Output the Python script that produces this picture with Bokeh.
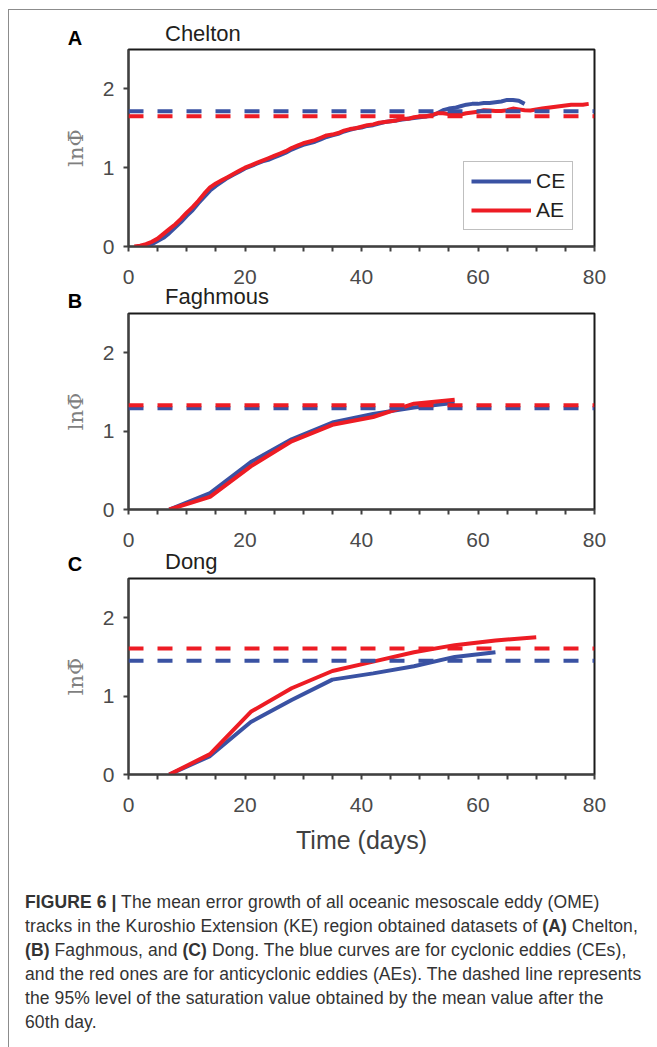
from bokeh.plotting import figure
from bokeh.models import FixedTicker, Span, Legend, LegendItem, Div, Range1d
from bokeh.layouts import column
from bokeh.embed import file_html
from bokeh.resources import INLINE

BLUE = "#3a52a3"
RED = "#ed1c24"

x_major_ticks = [0, 20, 40, 60, 80]
x_minor_ticks = [5, 10, 15, 25, 30, 35, 45, 50, 55, 65, 70, 75]
y_major_ticks = [0, 1, 2]

# ---- Panel A: Chelton (daily) ----
chelton_ce_days = list(range(2, 69))
chelton_ce = [0.00, 0.00, 0.03, 0.07, 0.11, 0.17, 0.24, 0.31, 0.39, 0.46,
              0.55, 0.63, 0.71, 0.77, 0.82, 0.87, 0.91, 0.95, 0.99, 1.02,
              1.05, 1.08, 1.10, 1.13, 1.16, 1.19, 1.23, 1.26, 1.29, 1.31,
              1.33, 1.36, 1.39, 1.41, 1.43, 1.46, 1.48, 1.50, 1.51, 1.53,
              1.54, 1.56, 1.58, 1.59, 1.60, 1.61, 1.62, 1.63, 1.64, 1.65,
              1.66, 1.69, 1.73, 1.75, 1.76, 1.78, 1.80, 1.81, 1.81, 1.82,
              1.82, 1.83, 1.84, 1.86, 1.86, 1.85, 1.81]
chelton_ae_days = list(range(1, 80))
chelton_ae = [0.00, 0.01, 0.03, 0.06, 0.10, 0.16, 0.22, 0.28, 0.35, 0.43,
              0.50, 0.58, 0.67, 0.75, 0.80, 0.84, 0.88, 0.92, 0.96, 1.00,
              1.03, 1.06, 1.09, 1.12, 1.15, 1.18, 1.21, 1.25, 1.28, 1.31,
              1.33, 1.35, 1.38, 1.41, 1.42, 1.44, 1.47, 1.49, 1.50, 1.52,
              1.54, 1.55, 1.57, 1.58, 1.59, 1.60, 1.62, 1.62, 1.64, 1.65,
              1.65, 1.67, 1.69, 1.69, 1.68, 1.68, 1.675, 1.69, 1.70, 1.71,
              1.73, 1.725, 1.72, 1.72, 1.73, 1.75, 1.74, 1.73, 1.725, 1.74,
              1.75, 1.76, 1.77, 1.78, 1.79, 1.80, 1.80, 1.80, 1.81]
chelton_ce_sat = 1.717
chelton_ae_sat = 1.654

# ---- Panel B: Faghmous (weekly) ----
faghmous_days = [7, 14, 21, 28, 35, 42, 49, 56]
faghmous_ce = [0.00, 0.21, 0.605, 0.895, 1.11, 1.22, 1.30, 1.36]
faghmous_ae = [0.00, 0.16, 0.55, 0.87, 1.08, 1.18, 1.35, 1.40]
faghmous_ce_sat = 1.29
faghmous_ae_sat = 1.33

# ---- Panel C: Dong (weekly) ----
dong_ce_days = [7, 14, 21, 28, 35, 42, 49, 56, 63]
dong_ce = [0.00, 0.235, 0.67, 0.95, 1.21, 1.29, 1.38, 1.50, 1.56]
dong_ae_days = [7, 14, 21, 28, 35, 42, 49, 56, 63, 70]
dong_ae = [0.00, 0.26, 0.80, 1.10, 1.32, 1.44, 1.56, 1.65, 1.71, 1.75]
dong_ce_sat = 1.45
dong_ae_sat = 1.607

FONT = "Liberation Sans"


def header(letter, title, height, letter_top, title_top):
    html = (
        f"<div style=\"position:relative; width:640px; height:{height}px; "
        f"font-family:'Liberation Sans';\">"
        f"<span style=\"position:absolute; left:51px; width:30px; top:{letter_top}px; "
        f"text-align:center; font-size:20px; line-height:20px; font-weight:bold; "
        f"color:#000;\">{letter}</span>"
        f"<span style=\"position:absolute; left:156px; top:{title_top}px; "
        f"font-size:22px; line-height:22px; color:#231f20; white-space:nowrap;\">{title}</span>"
        f"</div>"
    )
    return Div(text=html, width=648, height=height, margin=(0, 0, 0, 0))


def make_panel(ce_x, ce_y, ae_x, ae_y, ce_sat, ae_sat,
               frame_h, bottom, xlabel=None, legend=False):
    p = figure(frame_width=466, frame_height=frame_h,
               min_border_left=119, min_border_right=63,
               min_border_top=4, min_border_bottom=bottom,
               x_range=Range1d(0, 80), y_range=Range1d(0, 2.5),
               output_backend="svg", toolbar_location=None,
               background_fill_color="white", border_fill_color="white")
    p.xgrid.visible = False
    p.ygrid.visible = False
    p.outline_line_color = "#1a1a1a"
    p.outline_line_width = 2

    p.xaxis.ticker = FixedTicker(ticks=x_major_ticks, minor_ticks=x_minor_ticks)
    p.yaxis.ticker = FixedTicker(ticks=y_major_ticks, minor_ticks=[])
    for ax in (p.xaxis[0], p.yaxis[0]):
        ax.axis_line_color = "#404040"
        ax.axis_line_width = 2
        ax.major_tick_line_color = "#404040"
        ax.major_tick_line_width = 2
        ax.major_tick_in = 0
        ax.major_tick_out = 5
        ax.minor_tick_line_color = "#404040"
        ax.minor_tick_line_width = 2
        ax.minor_tick_in = 0
        ax.minor_tick_out = 5
        ax.major_label_text_font = FONT
        ax.major_label_text_font_size = "21px"
        ax.major_label_text_color = "#4a4a4a"
    p.xaxis.major_label_standoff = 18
    p.yaxis.major_label_standoff = 9

    p.yaxis.axis_label = "ln\u03A6\u0304"
    p.yaxis.axis_label_text_font = "DejaVu Serif"
    p.yaxis.axis_label_text_font_size = "21px"
    p.yaxis.axis_label_text_font_style = "normal"
    p.yaxis.axis_label_text_color = "#7f7f7f"
    p.yaxis.axis_label_standoff = 12

    if xlabel:
        p.xaxis.axis_label = xlabel
        p.xaxis.axis_label_text_font = FONT
        p.xaxis.axis_label_text_font_size = "25px"
        p.xaxis.axis_label_text_font_style = "normal"
        p.xaxis.axis_label_text_color = "#404040"
        p.xaxis.axis_label_standoff = 11

    r_ce = p.line(ce_x, ce_y, line_color=BLUE, line_width=4)
    r_ae = p.line(ae_x, ae_y, line_color=RED, line_width=4)

    for val, col in ((ce_sat, BLUE), (ae_sat, RED)):
        p.add_layout(Span(location=val, dimension="width", line_color=col,
                          line_width=4, line_dash="15 14"))

    if legend:
        lg = Legend(items=[LegendItem(label="CE", renderers=[r_ce]),
                           LegendItem(label="AE", renderers=[r_ae])],
                    location=(335, 16))
        lg.border_line_color = "#7f7f7f"
        lg.border_line_width = 1
        lg.background_fill_color = "white"
        lg.background_fill_alpha = 1
        lg.label_text_font = FONT
        lg.label_text_font_size = "21px"
        lg.label_text_color = "#231f20"
        lg.glyph_width = 60
        lg.glyph_height = 22
        lg.label_height = 22
        lg.spacing = 5
        lg.padding = 7
        lg.margin = 0
        lg.label_standoff = 5
        p.add_layout(lg)
    return p


hA = header("A", "Chelton", 35, 18, 13)
pA = make_panel(chelton_ce_days, chelton_ce, chelton_ae_days, chelton_ae,
                chelton_ce_sat, chelton_ae_sat, frame_h=197, bottom=40, legend=True)
hB = header("B", "Faghmous", 23, 5, 0)
pB = make_panel(faghmous_days, faghmous_ce, faghmous_days, faghmous_ae,
                faghmous_ce_sat, faghmous_ae_sat, frame_h=196, bottom=41)
hC = header("C", "Dong", 24, 4, 1)
pC = make_panel(dong_ce_days, dong_ce, dong_ae_days, dong_ae,
                dong_ce_sat, dong_ae_sat, frame_h=196, bottom=96, xlabel="Time (days)")

caption_html = (
    "<div style=\"padding:20px 0 0 16px; font-family:'Liberation Sans'; "
    "font-size:17.5px; line-height:24px; letter-spacing:0.1px; color:#333333; "
    "white-space:nowrap;\">"
    "<b>FIGURE 6 |</b> The mean error growth of all oceanic mesoscale eddy (OME)<br>"
    "tracks in the Kuroshio Extension (KE) region obtained datasets of <b>(A)</b> Chelton,<br>"
    "<b>(B)</b> Faghmous, and <b>(C)</b> Dong. The blue curves are for cyclonic eddies (CEs),<br>"
    "and the red ones are for anticyclonic eddies (AEs). The dashed line represents<br>"
    "the 95% level of the saturation value obtained by the mean value after the<br>"
    "60th day.</div>"
)
caption = Div(text=caption_html, width=648, height=177, margin=(0, 0, 0, 0))

layout = column(hA, pA, hB, pB, hC, pC, caption, spacing=0,
                styles={"border-left": "1px solid #8c8c8c",
                        "border-top": "1px solid #8c8c8c",
                        "margin-left": "8px", "margin-top": "9px"})

open("out.html", "w").write(file_html(layout, INLINE))
